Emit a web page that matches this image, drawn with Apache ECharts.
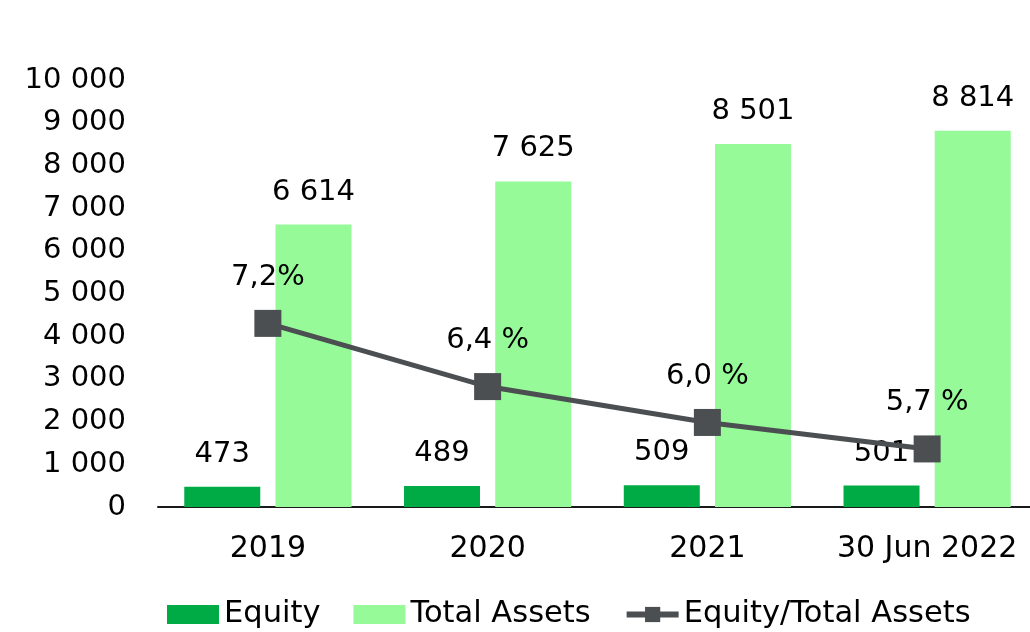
<!DOCTYPE html>
<html lang="en">
  <head>
    <meta charset="UTF-8" />
    <title>Equity / Total Assets</title>
    <script src="https://cdn.jsdelivr.net/npm/echarts@6/dist/echarts.min.js"></script>
    <style>
      html, body { margin: 0; padding: 0; background: #fff; }
    </style>
  </head>
  <body>
    <div id="main" style="width: 1030px; height: 632px"></div>

    <script>
      const categories = ['2019', '2020', '2021', '30 Jun 2022']
      const equity = [473, 489, 509, 501]
      const totalAssets = [6614, 7625, 8501, 8814]
      const ratio = [7.15, 6.41, 5.99, 5.68] // % , on hidden right axis
      const ratioLabels = ['7,2%', '6,4 %', '6,0 %', '5,7 %']

      const font = 'DejaVu Sans'
      const fontSize = 29

      // 6614 -> "6 614"
      function fmt(v) {
        return String(v).replace(/\B(?=(\d{3})+(?!\d))/g, ' ')
      }

      const myChart = echarts.init(document.getElementById('main'))

      const options = {
        animation: false,
        textStyle: { fontFamily: font, color: '#000' },
        grid: { left: 158, right: -7, top: 80, bottom: 125, outerBoundsMode: 'none' },
        legend: {
          bottom: -3,
          left: 162,
          itemWidth: 52,
          itemHeight: 19,
          itemGap: 33,
          textStyle: { fontSize: 30.5, color: '#000', fontFamily: font },
          lineStyle: { width: 6 },
          data: [
            { name: 'Equity', icon: 'rect' },
            { name: 'Total Assets', icon: 'rect' },
            { name: 'Equity/Total Assets' },
          ],
        },
        xAxis: {
          type: 'category',
          data: categories,
          axisLine: { lineStyle: { color: '#1a1a1a', width: 2 } },
          axisTick: { show: false },
          axisLabel: { fontSize: 30, color: '#000', margin: 27, interval: 0 },
        },
        yAxis: [
          {
            type: 'value',
            min: 0,
            max: 10000,
            interval: 1000,
            splitLine: { show: false },
            axisLine: { show: false },
            axisTick: { show: false },
            axisLabel: { fontSize: fontSize, color: '#000', margin: 32, formatter: fmt },
          },
          {
            type: 'value',
            min: 5,
            max: 10,
            show: false,
          },
        ],
        series: [
          {
            name: 'Equity',
            type: 'bar',
            data: equity,
            barWidth: 76,
            barGap: '20%',
            itemStyle: { color: '#00aa45' },
            label: {
              show: true,
              position: 'top',
              distance: 18,
              fontSize: fontSize,
              color: '#000',
              formatter: p => fmt(p.value),
            },
          },
          {
            name: 'Total Assets',
            type: 'bar',
            data: totalAssets,
            barWidth: 76,
            itemStyle: { color: '#96fa98' },
            label: {
              show: true,
              position: 'top',
              distance: 18,
              fontSize: fontSize,
              color: '#000',
              formatter: p => fmt(p.value),
            },
          },
          {
            name: 'Equity/Total Assets',
            type: 'line',
            yAxisIndex: 1,
            data: ratio,
            symbol: 'rect',
            symbolSize: 27,
            lineStyle: { color: '#4b4f52', width: 5 },
            itemStyle: { color: '#4b4f52' },
            label: {
              show: true,
              position: 'top',
              distance: 18,
              fontSize: fontSize,
              color: '#000',
              formatter: p => ratioLabels[p.dataIndex],
            },
          },
        ],
      }

      myChart.setOption(options)
    </script>
  </body>
</html>
